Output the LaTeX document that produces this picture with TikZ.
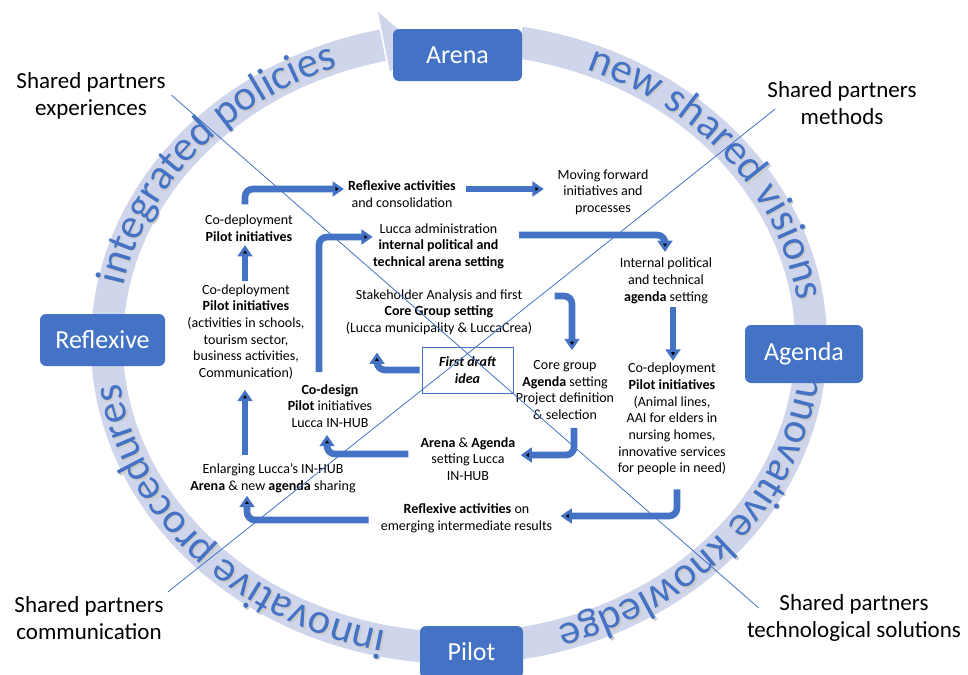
\documentclass[tikz,border=0pt]{standalone}
\usepackage{fontspec}
\setmainfont{Carlito}
\usetikzlibrary{arrows.meta,decorations.text}
\definecolor{accent}{RGB}{68,114,196}
\definecolor{ringfill}{RGB}{207,213,234}
\newcommand\ringfont{\fontsize{32}{32}\selectfont}

\tikzset{
  stage/.style={fill=accent, rounded corners=4.5pt, text=white, font=\fontsize{19.5}{22}\selectfont, minimum height=39pt, inner sep=0pt},
  partner/.style={align=center, font=\fontsize{17.25}{19.9}\selectfont, inner sep=0pt},
  note/.style={align=center, font=\fontsize{10.5}{12.5}\selectfont, inner sep=0pt},
  flow/.style={draw=accent, line width=5pt, rounded corners=6pt, -{Triangle[width=11pt,length=8.5pt]}},
  link/.style={draw=accent, line width=0.6pt},
  ringtext/.style={decorate, decoration={text along path, text align=center, text color=accent, text={|\ringfont|#1}}},
}

\begin{document}
\begin{tikzpicture}[x=0.75pt,y=0.75pt]
\useasboundingbox (0,0) rectangle (968,-675);

%Shape: Ring band, clockwise, head under Arena
\draw[ringfill, line width=24pt] (459,-343) ++(80:352 and 305) arc[start angle=80, end angle=-257.5, x radius=352, y radius=305];
\fill[ringfill] (378,-12) -- (416,-44) -- (390,-72) -- cycle;

%Text on the ring (shadow first)
\path[ringtext={integrated policies}, decoration={text color=black!20}, shift={(1.5,-1.5)}] (459,-343) ++(187:342 and 295) arc[start angle=187, end angle=95, x radius=342, y radius=295];
\path[ringtext={integrated policies}] (459,-343) ++(187:342 and 295) arc[start angle=187, end angle=95, x radius=342, y radius=295];
\path[ringtext={new shared visions}, decoration={text color=black!20}, shift={(1.5,-1.5)}] (459,-343) ++(83:342 and 295) arc[start angle=83, end angle=-9, x radius=342, y radius=295];
\path[ringtext={new shared visions}] (459,-343) ++(83:342 and 295) arc[start angle=83, end angle=-9, x radius=342, y radius=295];
\path[ringtext={innovative knowledge}, decoration={text color=black!20}, shift={(1.5,-1.5)}] (459,-343) ++(8:342 and 295) arc[start angle=8, end angle=-84, x radius=342, y radius=295];
\path[ringtext={innovative knowledge}] (459,-343) ++(8:342 and 295) arc[start angle=8, end angle=-84, x radius=342, y radius=295];
\path[ringtext={innovative procedures}, decoration={text color=black!20}, shift={(1.5,-1.5)}] (459,-343) ++(-92:342 and 295) arc[start angle=-92, end angle=-184, x radius=342, y radius=295];
\path[ringtext={innovative procedures}] (459,-343) ++(-92:342 and 295) arc[start angle=-92, end angle=-184, x radius=342, y radius=295];

% Stage boxes
\node[stage, minimum width=96.75pt] (arena) at (457.5,-55) {Arena};
\node[stage, minimum width=93.75pt] (reflexive) at (102.5,-340) {Reflexive};
\node[stage, minimum width=88.5pt, minimum height=43.5pt] (agenda) at (804,-354) {Agenda};
\node[stage, minimum width=77.25pt] (pilot) at (471.5,-652) {Pilot};

% Partner labels
\node[partner] (experiences) at (91,-96) {Shared partners\\experiences};
\node[partner] (methods) at (842,-103) {Shared partners\\methods};
\node[partner] (communication) at (89,-618) {Shared partners\\communication};
\node[partner] (solutions) at (854,-618) {Shared partners\\technological solutions};

% Text Nodes
\node[note] (copilot) at (249,-228) {Co-deployment\\\textbf{Pilot initiatives}};
\node[note] (schools) at (246,-332) {Co-deployment\\\textbf{Pilot initiatives}\\(activities in schools,\\tourism sector,\\business activities,\\Communication)};
\node[note] (reflex) at (402,-194) {\textbf{Reflexive activities}\\and consolidation};
\node[note] (moving) at (603,-192) {Moving forward\\initiatives and\\processes};
\node[note] (admin) at (438.5,-246) {Lucca administration\\\textbf{internal political and}\\\textbf{technical arena setting}};
\node[note] (stake) at (439,-312) {Stakeholder Analysis and first\\\textbf{Core Group setting}\\(Lucca municipality \& LuccaCrea)};
\node[note, draw=accent, line width=0.75pt, minimum width=68.25pt, minimum height=34.5pt, font=\fontsize{10.5}{12.5}\selectfont\bfseries\itshape] (draft) at (467.5,-370) {First draft\\idea};
\node[note] (coregroup) at (565,-390) {Core group\\\textbf{Agenda} setting\\Project definition\\\& selection};
\node[note] (internal) at (666,-281) {Internal political\\and technical\\\textbf{agenda} setting};
\node[note] (animal) at (672,-419) {Co-deployment\\\textbf{Pilot initiatives}\\(Animal lines,\\AAI for elders in\\nursing homes,\\innovative services\\for people in need)};
\node[note] (codesign) at (330,-406) {\textbf{Co-design}\\\textbf{Pilot} initiatives\\Lucca IN-HUB};
\node[note] (hub) at (468,-459) {\textbf{Arena} \& \textbf{Agenda}\\setting Lucca\\IN-HUB};
\node[note] (enlarge) at (273,-478) {Enlarging Lucca’s IN-HUB\\\textbf{Arena} \& new \textbf{agenda} sharing};
\node[note] (emerging) at (466.5,-518) {\textbf{Reflexive activities} on\\emerging intermediate results};

% Block arrows
\draw[flow] ([shift={(-4,10)}]copilot.north) |- ([shift={(-4,5)}]reflex.west);
\draw[flow] ([shift={(10,5)}]reflex.east) -- ([shift={(-13.5,3)}]moving.west);
\draw[flow] ([shift={(-1,3)}]schools.north) -- ([shift={(-4,-3.6)}]copilot.south);
\draw[flow] ([shift={(-28,8)}]enlarge.north) -- ([shift={(-1,-10)}]schools.south);
\draw[flow] ([shift={(-12,-2)}]emerging.west) -| ([shift={(-26,-3)}]enlarge.south);
\draw[flow] ([shift={(-12,5)}]hub.west) -| ([shift={(-3,-7)}]codesign.south);
\draw[flow] ([shift={(-11,12)}]codesign.north) |- ([shift={(0,9)}]admin.west);
\draw[flow] ([shift={(15,11)}]admin.east) -| ([shift={(-1,6)}]internal.north);
\draw[flow] ([shift={(22,16)}]stake.east) -| ([shift={(7,10)}]coregroup.north);
\draw[flow] ([shift={(7,-3)}]internal.south) -- ([shift={(1,2)}]animal.north);
\draw[flow] ([shift={(-2,0)}]draft.west) -| ([shift={(-62,-17.6)}]stake.south);
\draw[flow] ([shift={(9,-8)}]coregroup.south) |- ([shift={(5,4)}]hub.east);
\draw[flow] ([shift={(5,-14)}]animal.south) |- ([shift={(8,2)}]emerging.east);

%Straight Lines: partner diagonals
\draw[link] ([shift={(5.5,1)}]experiences.east) -- ([shift={(12,10)}]solutions.west);
\draw[link] ([shift={(4,26)}]communication.east) -- ([shift={(8,-6)}]methods.west);

\end{tikzpicture}
\end{document}
